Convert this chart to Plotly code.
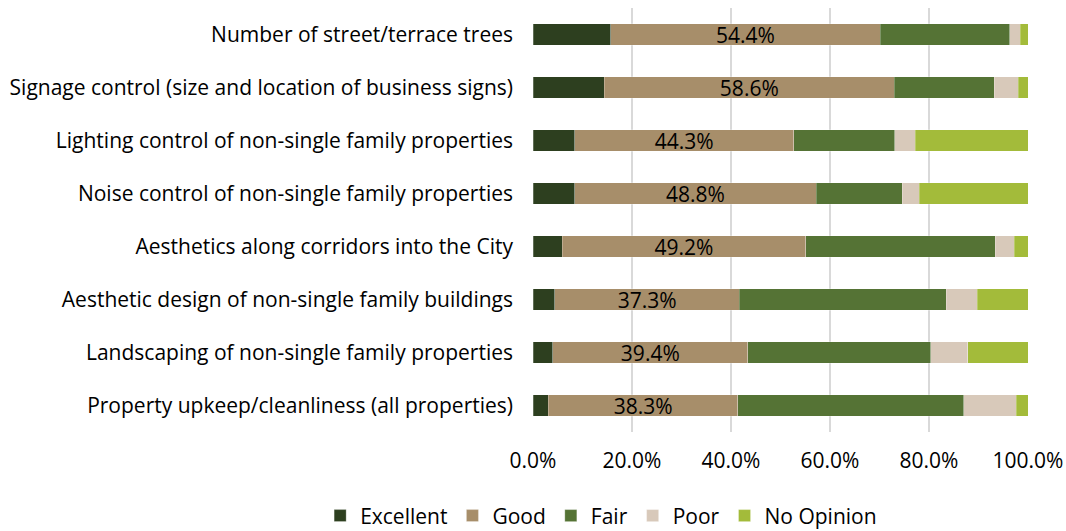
import plotly.graph_objects as go

categories = [
    "Number of street/terrace trees",
    "Signage control (size and location of business signs)",
    "Lighting control of non-single family properties",
    "Noise control of non-single family properties",
    "Aesthetics along corridors into the City",
    "Aesthetic design of non-single family buildings",
    "Landscaping of non-single family properties",
    "Property upkeep/cleanliness (all properties)",
]
excellent = [15.7, 14.4, 8.4, 8.4, 5.9, 4.4, 4.0, 3.1]
good = [54.4, 58.6, 44.3, 48.8, 49.2, 37.3, 39.4, 38.3]
fair = [26.2, 20.2, 20.4, 17.4, 38.3, 41.8, 37.0, 45.6]
poor = [2.1, 4.8, 4.1, 3.4, 3.8, 6.2, 7.4, 10.6]
no_opinion = [1.6, 2.0, 22.8, 22.0, 2.8, 10.3, 12.2, 2.4]
tick_vals = [0, 20, 40, 60, 80, 100]

series = [
    ("Excellent", excellent, "#2d3f1f", False),
    ("Good", good, "#a78e6a", True),
    ("Fair", fair, "#557335", False),
    ("Poor", poor, "#d8c9ba", False),
    ("No Opinion", no_opinion, "#a3bb3a", False),
]

FONT = "Open Sans"
FS = 21
fig = go.Figure()
for name, vals, color, show_text in series:
    fig.add_trace(go.Bar(
        name=name, y=categories, x=vals, orientation="h",
        marker=dict(color=color, line=dict(color="rgba(255,255,255,0.5)", width=0.5)),
        text=[f"{v:.1f}%" for v in vals] if show_text else None,
        textposition="inside" if show_text else "none",
        insidetextanchor="middle",
        constraintext="none",
        textangle=0,
        textfont=dict(family=FONT, size=FS, color="#000000"),
        hoverinfo="x+name",
    ))

fig.update_layout(
    barmode="stack",
    bargap=0.6,
    width=1066, height=531,
    margin=dict(l=533, r=38, t=8, b=99, autoexpand=False),
    paper_bgcolor="white", plot_bgcolor="white",
    font=dict(family=FONT, size=FS, color="#000000"),
    legend=dict(
        orientation="h", xref="paper", x=-0.43, xanchor="left",
        yref="paper", y=-0.198, yanchor="middle",
        font=dict(family=FONT, size=FS, color="#000000"),
        traceorder="normal", itemclick=False,
    ),
    xaxis=dict(
        range=[0, 100], tickvals=tick_vals,
        ticktext=[f"{v:.1f}%" for v in tick_vals],
        showgrid=True, gridcolor="#d9d9d9", gridwidth=1.5,
        zeroline=False, showline=False, ticks="",
        ticklabelstandoff=14,
        tickfont=dict(family=FONT, size=FS, color="#000000"),
    ),
    yaxis=dict(
        autorange="reversed", showgrid=False, ticks="", showline=False,
        ticklabelstandoff=19,
        tickfont=dict(family=FONT, size=FS, color="#000000"),
    ),
)

fig.write_html(
    "out.html",
    config={"displayModeBar": False},
    post_script="document.body.style.margin='0';document.body.style.padding='0';",
)
